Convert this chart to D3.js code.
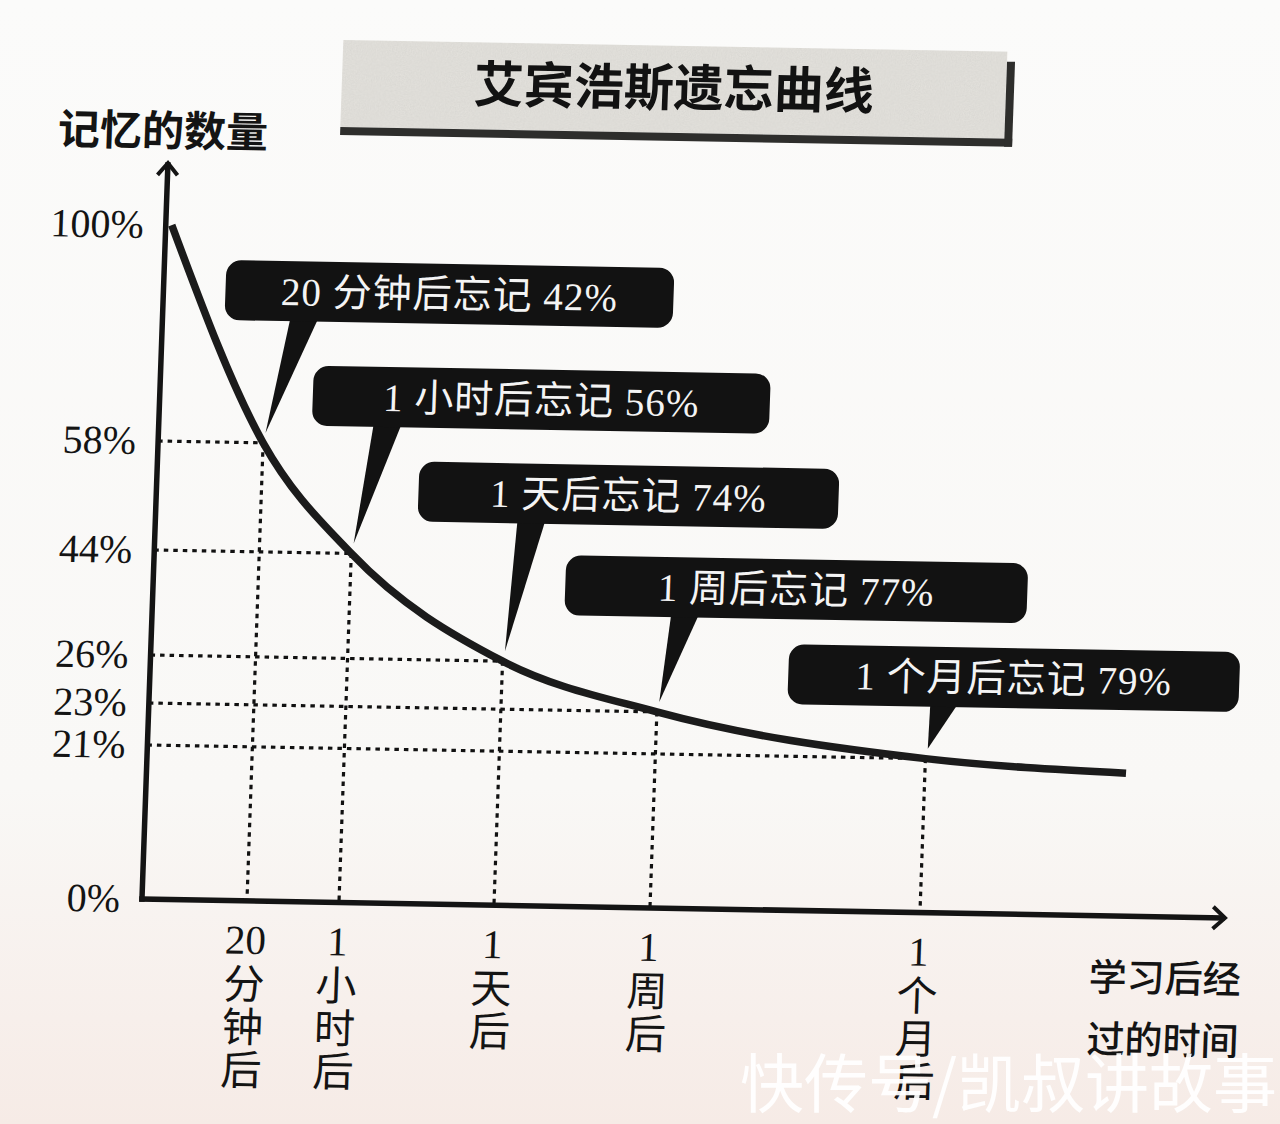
<!DOCTYPE html>
<html>
<head>
<meta charset="utf-8">
<script src="https://cdn.jsdelivr.net/npm/d3@7/dist/d3.min.js"></script>
<style>
  html, body { margin: 0; padding: 0; background: #f8f7f4; }
  svg { display: block; }
</style>
</head>
<body>
<svg width="1280" height="1124"></svg>
<script>
// data
const minutes = [0, 20, 60, 1440, 10080, 43200, 86400];
const retained = [100, 58, 44, 26, 23, 21, 19.5];
const yTicks = [100, 58, 44, 26, 23, 21, 0];
const xTickLines = [
    ['20', '分', '钟', '后'],
    ['1', '小', '时', '后'],
    ['1', '天', '后'],
    ['1', '周', '后'],
    ['1', '个', '月', '后']
];
const calloutLabels = ['20 分钟后', '1 小时后', '1 天后', '1 周后', '1 个月后'];
const forgotten = [42, 56, 74, 77, 79];

// callout placement relative to the marked point: box dx, box bottom dy, width, pointer base dx
const calloutPlace = [
    [-43, -122, 448, 23],
    [-44, -127, 457, 18],
    [-90, -138, 420, 10],
    [-96, -95, 462, 11],
    [-140, -52, 451, 3]
];

const svg = d3.select('svg');
const W = 1280, H = 1124;
const ink = '#141414';
const serif = '"Liberation Serif", "Noto Sans CJK SC", serif';
const sans = '"Noto Sans CJK SC", sans-serif';

// paper background
const defs = svg.append('defs');
const bg = defs.append('linearGradient')
        .attr('id', 'paper')
        .attr('x1', 0).attr('y1', 0).attr('x2', 0).attr('y2', 1);
bg.append('stop').attr('offset', '0%').attr('stop-color', '#fbfbfa');
bg.append('stop').attr('offset', '70%').attr('stop-color', '#f9f8f6');
bg.append('stop').attr('offset', '100%').attr('stop-color', '#f6ebe6');

const grain = defs.append('filter').attr('id', 'grain');
grain.append('feTurbulence')
        .attr('type', 'fractalNoise')
        .attr('baseFrequency', 0.8)
        .attr('numOctaves', 2)
        .attr('result', 'n');
grain.append('feColorMatrix')
        .attr('in', 'n')
        .attr('type', 'matrix')
        .attr('values', '0 0 0 0 0.45  0 0 0 0 0.45  0 0 0 0 0.43  0 0 0 0.35 0')
        .attr('result', 'g');
grain.append('feComposite')
        .attr('in', 'g')
        .attr('in2', 'SourceGraphic')
        .attr('operator', 'in')
        .attr('result', 'gm');
grain.append('feMerge').selectAll('feMergeNode')
        .data(['SourceGraphic', 'gm'])
        .enter().append('feMergeNode')
        .attr('in', d => d);

svg.append('rect')
        .attr('width', W)
        .attr('height', H)
        .attr('fill', 'url(#paper)');

// the photographed page is slightly tilted
const g = svg.append('g')
        .attr('transform', 'matrix(1,0.01754,-0.0353,1,31.7,-2.49)');

const x = d3.scaleLinear()
        .domain(minutes)
        .range([148, 247, 339, 494, 650, 920, 1121]);

const y = d3.scaleLinear()
        .domain([0, 21, 23, 26, 44, 58, 100])
        .range([899, 745, 703, 655, 550, 441, 225]);

const x0 = 142, y0 = y(0);
const pts = minutes.map((t, i) => ({ t: t, v: retained[i] }));
const marked = pts.slice(1, 6);

// title box
const title = g.append('g');
title.append('rect')
        .attr('x', 313).attr('y', 37)
        .attr('width', 664).attr('height', 87)
        .attr('fill', '#e6e4df')
        .attr('filter', 'url(#grain)');
title.append('rect')
        .attr('x', 313).attr('y', 124)
        .attr('width', 672).attr('height', 8)
        .attr('fill', '#2e2e2c');
title.append('rect')
        .attr('x', 977).attr('y', 47)
        .attr('width', 8).attr('height', 85)
        .attr('fill', '#2e2e2c');
title.append('text')
        .attr('x', 645).attr('y', 97)
        .attr('text-anchor', 'middle')
        .attr('font-family', sans)
        .attr('font-weight', 700)
        .attr('font-size', 50)
        .attr('fill', '#121212')
        .text('艾宾浩斯遗忘曲线');

// y axis title
g.append('text')
        .attr('x', 31).attr('y', 146)
        .attr('font-family', sans)
        .attr('font-weight', 700)
        .attr('font-size', 42)
        .attr('fill', ink)
        .text('记忆的数量');

// dotted guide lines
const guides = g.append('g')
        .attr('stroke', '#111')
        .attr('stroke-width', 3.2)
        .attr('stroke-dasharray', '4.5,5')
        .attr('fill', 'none');
guides.selectAll('line.h')
        .data(marked)
        .enter().append('line')
        .attr('class', 'h')
        .attr('x1', x0).attr('x2', d => x(d.t))
        .attr('y1', d => y(d.v)).attr('y2', d => y(d.v));
guides.selectAll('line.v')
        .data(marked)
        .enter().append('line')
        .attr('class', 'v')
        .attr('x1', d => x(d.t)).attr('x2', d => x(d.t))
        .attr('y1', d => y(d.v)).attr('y2', y0);

// axes with arrows
const axes = g.append('g')
        .attr('stroke', ink)
        .attr('stroke-width', 5.5)
        .attr('fill', 'none')
        .attr('stroke-linecap', 'square');
axes.append('path').attr('d', `M${x0},${y0}V165`);
axes.append('path').attr('d', `M${x0},${y0}H1222`);
axes.append('path')
        .attr('stroke-width', 4)
        .attr('stroke-linecap', 'butt')
        .attr('d', `M${x0 - 10},175L${x0},163L${x0 + 10},175`);
axes.append('path')
        .attr('stroke-width', 4)
        .attr('stroke-linecap', 'butt')
        .attr('d', `M1213,${y0 - 11}L1225,${y0}L1213,${y0 + 11}`);

const yAxis = g.append('g')
        .attr('transform', `translate(${x0},0)`)
        .call(d3.axisLeft(y)
                .tickValues(yTicks)
                .tickFormat(d => d + '%')
                .tickSize(0)
                .tickPadding(22));
yAxis.select('.domain').remove();
yAxis.selectAll('text')
        .attr('font-family', serif)
        .attr('font-size', 40)
        .attr('fill', ink);

// x tick labels, written top to bottom
const xLab = g.append('g')
        .selectAll('text')
        .data(marked)
        .enter().append('text')
        .attr('text-anchor', 'middle')
        .attr('font-family', serif)
        .attr('font-size', 41)
        .attr('fill', ink);
xLab.selectAll('tspan')
        .data((d, i) => xTickLines[i].map(s => ({ s: s, x: x(d.t) })))
        .enter().append('tspan')
        .attr('x', d => d.x)
        .attr('y', (d, j) => j === 0 ? 952 : 954 + j * 43)
        .text(d => d.s);

// x axis title
g.append('text')
        .attr('font-family', sans)
        .attr('font-weight', 500)
        .attr('font-size', 38)
        .attr('fill', ink)
        .selectAll('tspan')
        .data(['学习后经', '过的时间'])
        .enter().append('tspan')
        .attr('x', 1091)
        .attr('y', (d, i) => 974 + i * 62)
        .text(d => d);

// forgetting curve
const line = d3.line()
        .x(d => x(d.t))
        .y(d => y(d.v))
        .curve(d3.curveMonotoneX);
g.append('path')
        .datum(pts)
        .attr('d', line)
        .attr('fill', 'none')
        .attr('stroke', '#1b1b1b')
        .attr('stroke-width', 7.5)
        .attr('stroke-linejoin', 'round');

// callouts
const boxH = 60;
const call = g.append('g')
        .selectAll('g')
        .data(marked)
        .enter().append('g');

call.append('path')
        .attr('fill', '#121212')
        .attr('d', (d, i) => {
            const p = calloutPlace[i];
            const px = x(d.t), py = y(d.v);
            const by = py + p[1];
            const bx = px + p[3];
            return `M${bx},${by - 4}L${px + 2},${py - 10}L${bx + 28},${by - 4}Z`;
        });

call.append('rect')
        .attr('x', (d, i) => x(d.t) + calloutPlace[i][0])
        .attr('y', (d, i) => y(d.v) + calloutPlace[i][1] - boxH)
        .attr('width', (d, i) => calloutPlace[i][2])
        .attr('height', boxH)
        .attr('rx', 15)
        .attr('fill', '#121212');

call.append('text')
        .attr('x', (d, i) => x(d.t) + calloutPlace[i][0] + calloutPlace[i][2] / 2)
        .attr('y', (d, i) => y(d.v) + calloutPlace[i][1] - boxH / 2 + 14)
        .attr('text-anchor', 'middle')
        .attr('font-family', serif)
        .attr('font-size', 39)
        .attr('letter-spacing', 1)
        .attr('fill', '#f4f4f4')
        .text((d, i) => calloutLabels[i] + '忘记 ' + forgotten[i] + '%');

// watermark on the photo
svg.append('text')
        .attr('x', 1277).attr('y', 1107)
        .attr('text-anchor', 'end')
        .attr('font-family', sans)
        .attr('font-size', 64)
        .attr('fill', '#ffffff')
        .attr('fill-opacity', 0.93)
        .text('快传号/凯叔讲故事');
</script>
</body>
</html>
